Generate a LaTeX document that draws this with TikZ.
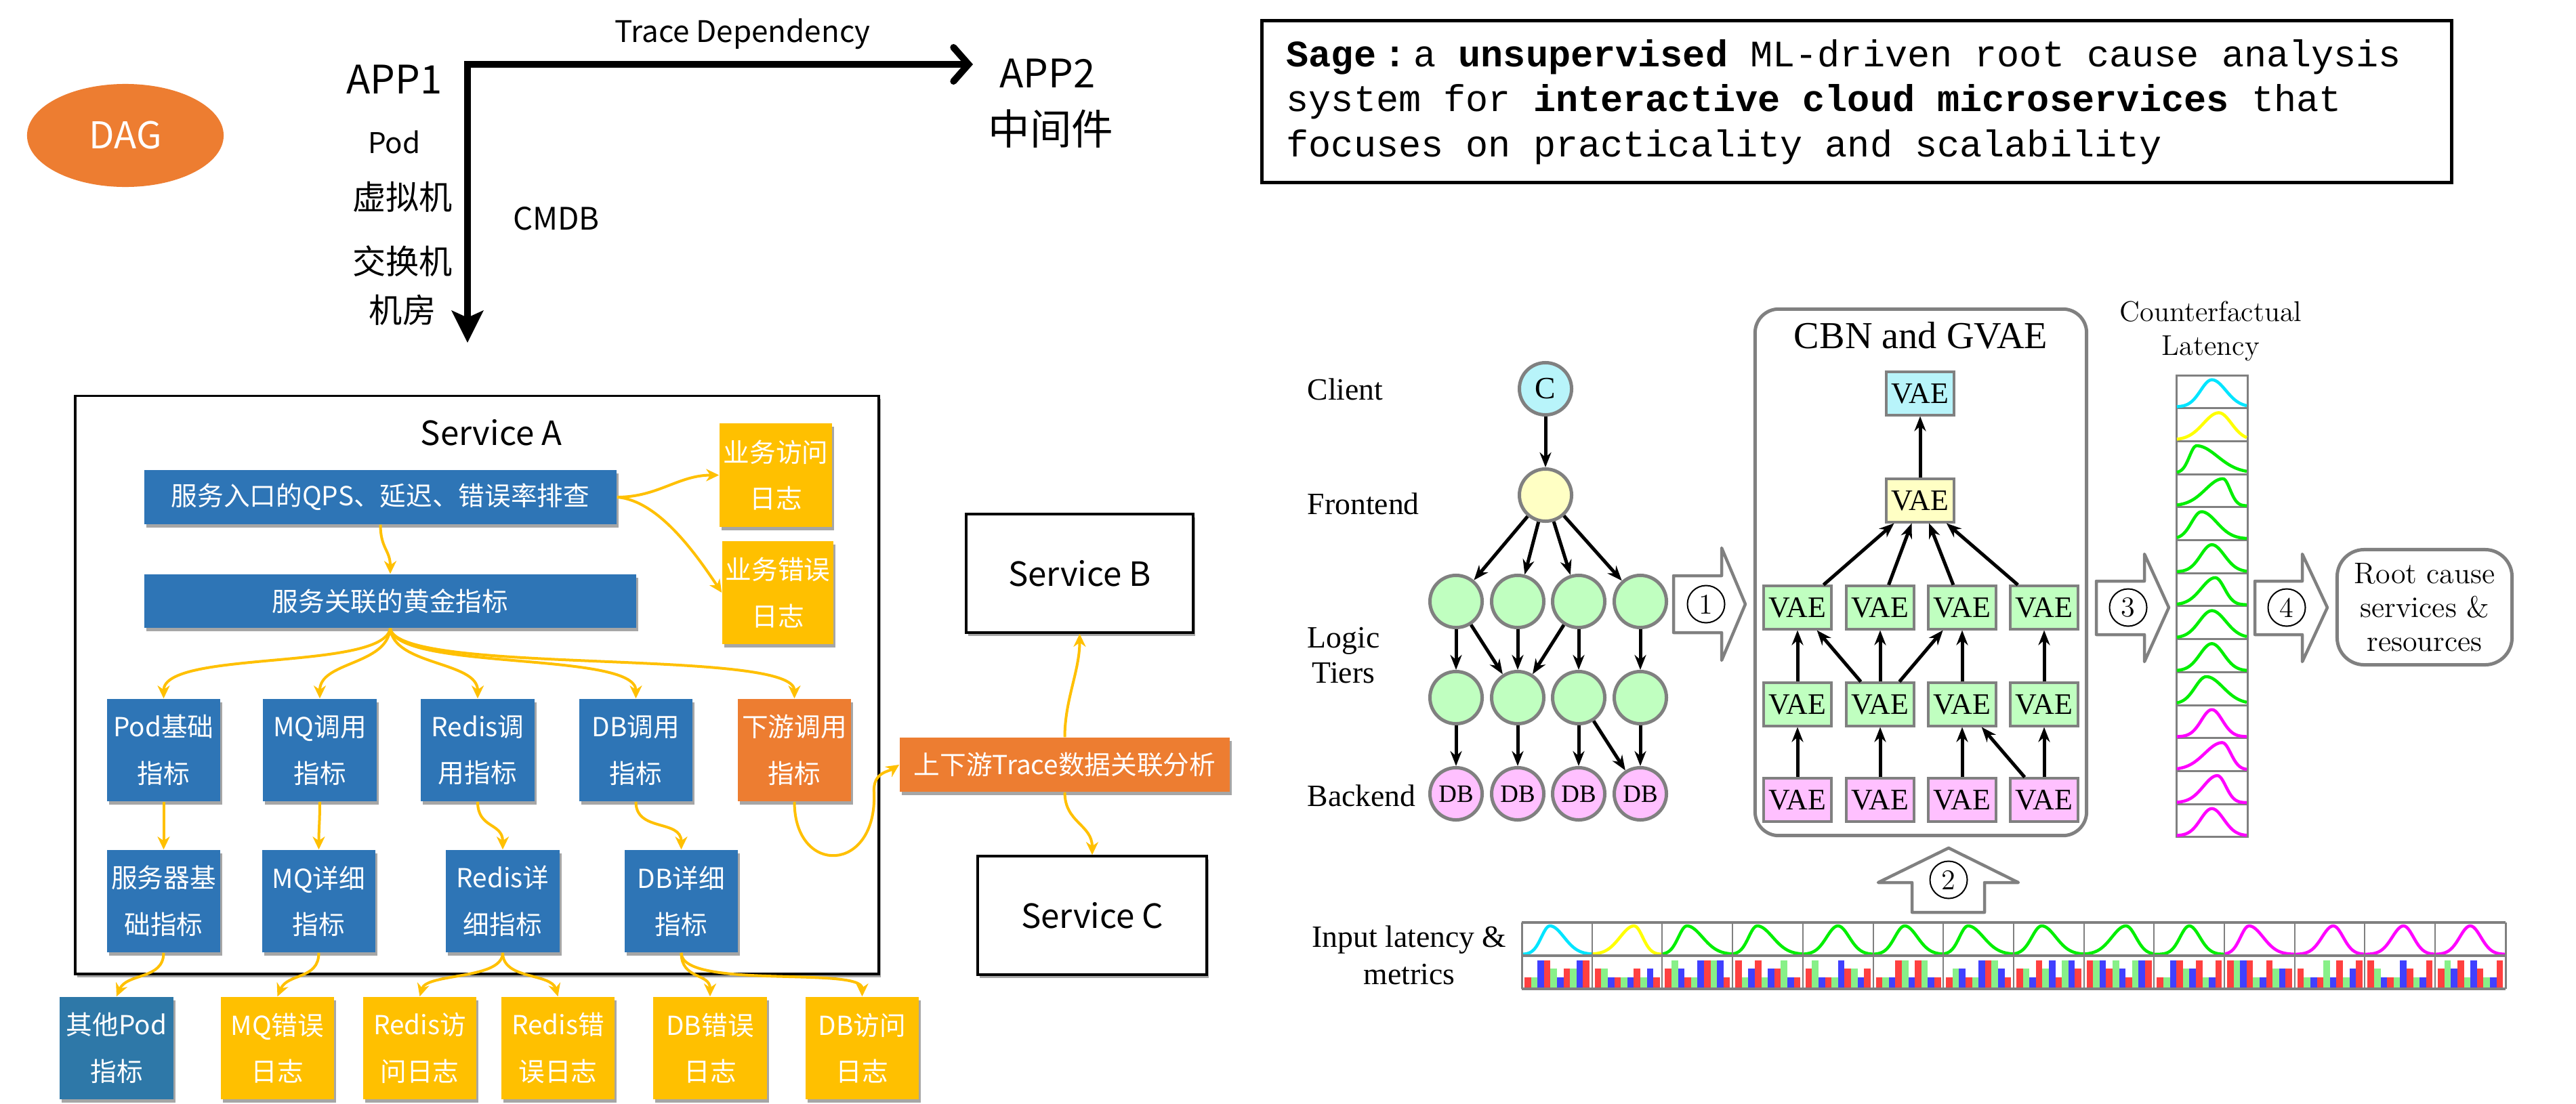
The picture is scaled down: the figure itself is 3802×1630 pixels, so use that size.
\documentclass[tikz,border=0pt]{standalone}
\usepackage{fontspec}
\usetikzlibrary{arrows.meta,shapes.geometric,shadows,calc}
\newfontfamily\cjk{Noto Sans CJK SC}
\newfontfamily\ser{Liberation Serif}
\newfontfamily\mono{Liberation Mono}
\newcommand\fsz[2]{\fontsize{#1pt}{#2pt}\selectfont}
\definecolor{cblue}{HTML}{2E75B6}
\definecolor{cblue2}{HTML}{2E78A8}
\definecolor{cyel}{HTML}{FFC000}
\definecolor{corg}{HTML}{ED7D31}
\definecolor{gry}{HTML}{808080}
\definecolor{lcyan}{HTML}{B8F4FA}
\definecolor{lyel}{HTML}{FFFFC4}
\definecolor{lgrn}{HTML}{C0FFC0}
\definecolor{lpink}{HTML}{FFC0FF}
\definecolor{ccyan}{HTML}{00E5FF}
\definecolor{cyellow}{HTML}{FFFF00}
\definecolor{cgreen}{HTML}{00EE00}
\definecolor{cmag}{HTML}{FF00FF}
\definecolor{bred}{HTML}{FF4040}
\definecolor{bgrn}{HTML}{88F088}
\definecolor{bblu}{HTML}{4040FF}
% bell curve: x0, ybottom, width, amplitude, mu, sigmaL, sigmaR, colour
\newcommand\bellc[8]{%
  \draw[#8, line width=0.045cm, line join=round] plot[domain=0:1, samples=41, smooth]
    ({#1+#3*\x}, {#2-#4*exp(-((\x-#5)^2)/(2*(((\x<#5)?#6:#7))^2))});
}
\begin{document}
\begin{tikzpicture}[x=0.01cm,y=-0.01cm,
  shad/.style={drop shadow={shadow xshift=0.03cm,shadow yshift=-0.05cm,opacity=0.35,fill=black}},
  lbox/.style={shad, inner sep=0pt, text=white, font=\cjk\fsz{11}{19.5}, align=center, minimum width=1.67cm, minimum height=1.51cm},
  bluebox/.style={lbox, fill=cblue},
  yelbox/.style={lbox, fill=cyel},
  orgbox/.style={lbox, fill=corg},
  svcbox/.style={shad, draw=black, line width=0.035cm, fill=white, font=\cjk\fsz{14}{16}, inner sep=0pt},
  yarr/.style={draw=cyel, line width=0.04cm, -{Stealth[length=0.19cm,width=0.18cm,inset=0.06cm]}},
  circ/.style={circle, draw=gry, line width=0.05cm, minimum size=0.77cm, inner sep=0pt, font=\ser\fsz{10.5}{12}},
  vae/.style={draw=gry, line width=0.04cm, minimum width=1.0cm, minimum height=0.63cm, inner sep=0pt, font=\ser\fsz{12.5}{14}},
  barr/.style={line width=0.05cm, -{Stealth[length=0.22cm,width=0.17cm]}},
  bigarr/.style={draw=gry, line width=0.045cm, fill=white, line join=round},
  numc/.style={circle, draw=black, line width=0.02cm, minimum size=0.55cm, inner sep=0pt, fill=white, font=\fsz{12}{14}},
  lbl/.style={font=\ser\fsz{13}{15}, inner sep=0pt}
]
\useasboundingbox (0,0) rectangle (3802,1630);
\fill[white] (0,0) rectangle (3802,1630);

% ---------------- left top: DAG axes ----------------
\node[ellipse, fill=corg, minimum width=2.9cm, minimum height=1.52cm, text=white, font=\cjk\fsz{15.5}{18}] (dag) at (185,200) {DAG};
\node[font=\cjk\fsz{12.5}{15}] (tracelbl) at (1096,50) {Trace Dependency};
\node[font=\cjk\fsz{16.5}{19}] (app1) at (582,117) {APP1};
\node[font=\cjk\fsz{16.5}{19}] (app2) at (1546,108) {APP2};
\node[font=\cjk\fsz{17.5}{20}] (mw) at (1551,190) {中间件};
\node[font=\cjk\fsz{12}{14}] (pod) at (582,210) {Pod};
\node[font=\cjk\fsz{14}{16}] (vm) at (594,291) {虚拟机};
\node[font=\cjk\fsz{14}{16}] (sw) at (594,386) {交换机};
\node[font=\cjk\fsz{14}{16}] (room) at (594,458) {机房};
\node[font=\cjk\fsz{13}{15}] (cmdb) at (821,323) {CMDB};
\coordinate (corner) at (690,95);
\coordinate (trend) at (1436,95);
\coordinate (dnend) at (690,506);
\draw[line width=0.1cm, line join=miter, {Stealth[length=0.47cm,width=0.46cm,inset=0.1cm]}-{Straight Barb[length=0.22cm,width=0.5cm,line cap=round]}] (dnend) -- (corner) -- (trend);

% ---------------- Service A ----------------
\node[svcbox, minimum width=11.85cm, minimum height=8.53cm] (svcA) at (704,1011) {};
\node[font=\cjk\fsz{14}{16}] (svcAlbl) at (725,639) {Service A};

\node[bluebox, minimum width=6.97cm, minimum height=0.8cm] (q1) at (561.5,734) {服务入口的QPS、延迟、错误率排查};
\node[bluebox, minimum width=7.26cm, minimum height=0.79cm] (q2) at (576,887.5) {服务关联的黄金指标};
\node[yelbox, minimum width=1.66cm, minimum height=1.53cm] (y1) at (1145,701.5) {业务访问\\日志};
\node[yelbox, minimum width=1.64cm, minimum height=1.52cm] (y2) at (1148,875) {业务错误\\日志};

\node[bluebox] (r3a) at (241.5,1107.5) {Pod基础\\指标};
\node[bluebox] (r3b) at (472,1107.5) {MQ调用\\指标};
\node[bluebox] (r3c) at (705,1107.5) {Redis调\\用指标};
\node[bluebox] (r3d) at (938.5,1107.5) {DB调用\\指标};
\node[orgbox] (r3e) at (1172.5,1107.5) {下游调用\\指标};

\node[bluebox] (r4a) at (241.5,1330.5) {服务器基\\础指标};
\node[bluebox] (r4b) at (470.5,1330.5) {MQ详细\\指标};
\node[bluebox] (r4c) at (742,1330.5) {Redis详\\细指标};
\node[bluebox] (r4d) at (1005.5,1330.5) {DB详细\\指标};

\node[lbox, fill=cblue2] (r5a) at (172,1547.5) {其他Pod\\指标};
\node[yelbox] (r5b) at (409.5,1547.5) {MQ错误\\日志};
\node[yelbox] (r5c) at (619.5,1547.5) {Redis访\\问日志};
\node[yelbox] (r5d) at (823.5,1547.5) {Redis错\\误日志};
\node[yelbox] (r5e) at (1048,1547.5) {DB错误\\日志};
\node[yelbox] (r5f) at (1272.5,1547.5) {DB访问\\日志};

\node[svcbox, minimum width=3.35cm, minimum height=1.75cm] (svcB) at (1593.5,846.5) {Service B};
\node[svcbox, minimum width=3.38cm, minimum height=1.75cm] (svcC) at (1612,1351.5) {Service C};
\node[orgbox, minimum width=4.87cm, minimum height=0.8cm] (trace) at (1571.5,1129) {上下游Trace数据关联分析};

% yellow connectors
\draw[yarr] (q1.east) .. controls +(60,0) and +(-60,0) .. (y1.west);
\draw[yarr] (q1.east) .. controls +(60,5) and +(-40,-60) .. (y2.west);
\draw[yarr] (q1.south) .. controls +(0,35) and +(0,-35) .. (q2.north);
\draw[yarr] (q2.south) .. controls +(-10,63) and +(0,-72) .. (r3a.north);
\draw[yarr] (q2.south) .. controls +(-5,55) and +(0,-55) .. (r3b.north);
\draw[yarr] (q2.south) .. controls +(5,55) and +(0,-55) .. (r3c.north);
\draw[yarr] (q2.south) .. controls +(10,63) and +(0,-70) .. (r3d.north);
\draw[yarr] (q2.south) .. controls +(10,70) and +(0,-75) .. (r3e.north);
\draw[yarr] (r3a.south) .. controls +(0,30) and +(0,-30) .. (r4a.north);
\draw[yarr] (r3b.south) .. controls +(0,30) and +(0,-30) .. (r4b.north);
\draw[yarr] (r3c.south) .. controls +(0,40) and +(0,-40) .. (r4c.north);
\draw[yarr] (r3d.south) .. controls +(0,45) and +(0,-45) .. (r4d.north);
\draw[yarr] (r3e.south) .. controls +(0,110) and +(5,120) .. (1290,1170) .. controls +(-2,-30) and +(-15,10) .. (trace.west);
\draw[yarr] (trace.north) .. controls +(0,-55) and +(0,55) .. (svcB.south);
\draw[yarr] (trace.south) .. controls +(0,45) and +(0,-45) .. (svcC.north);
\draw[yarr] (r4a.south) .. controls +(0,40) and +(15,-35) .. (r5a.north);
\draw[yarr] (r4b.south) .. controls +(0,40) and +(15,-35) .. (r5b.north);
\draw[yarr] (r4c.south) .. controls +(0,40) and +(10,-35) .. (r5c.north);
\draw[yarr] (r4c.south) .. controls +(0,40) and +(-10,-35) .. (r5d.north);
\draw[yarr] (r4d.south) .. controls +(0,40) and +(0,-35) .. (r5e.north);
\draw[yarr] (r4d.south) .. controls +(0,55) and +(0,-45) .. (r5f.north);

% ---------------- Sage box ----------------
\node[draw, line width=0.05cm, minimum width=17.55cm, minimum height=2.38cm, inner sep=0pt] (sagebox) at (2740,150) {};
\node[anchor=base west, inner sep=0pt, font=\mono\fsz{15.7}{19}] (s1) at (1898,98) {\textbf{Sage}\hspace{0.2em}\textbf{:}\hspace{0.2em}a \textbf{unsupervised} ML-driven root cause analysis};
\node[anchor=base west, inner sep=0pt, font=\mono\fsz{15.7}{19}] (s2) at (1898,164) {system for \textbf{interactive cloud microservices} that};
\node[anchor=base west, inner sep=0pt, font=\mono\fsz{15.7}{19}] (s3) at (1898,231) {focuses on practicality and scalability};

% ---------------- service graph ----------------
\node[lbl, anchor=west] (client) at (1929,575) {Client};
\node[lbl, anchor=west] (frontend) at (1929,744) {Frontend};
\node[lbl, align=center, font=\ser\fsz{13}{14.8}] (logic) at (1983,968) {Logic\\Tiers};
\node[lbl, anchor=west] (backend) at (1929,1175) {Backend};

\node[circ, fill=lcyan, font=\ser\fsz{13}{15}] (nc) at (2281,574) {C};
\node[circ, fill=lyel] (nf) at (2281,731) {};
\node[circ, fill=lgrn] (la1) at (2149,888) {};
\node[circ, fill=lgrn] (la2) at (2240,888) {};
\node[circ, fill=lgrn] (la3) at (2330,888) {};
\node[circ, fill=lgrn] (la4) at (2421,888) {};
\node[circ, fill=lgrn] (lb1) at (2149,1030) {};
\node[circ, fill=lgrn] (lb2) at (2240,1030) {};
\node[circ, fill=lgrn] (lb3) at (2330,1030) {};
\node[circ, fill=lgrn] (lb4) at (2421,1030) {};
\node[circ, fill=lpink] (db1) at (2149,1172) {DB};
\node[circ, fill=lpink] (db2) at (2240,1172) {DB};
\node[circ, fill=lpink] (db3) at (2330,1172) {DB};
\node[circ, fill=lpink] (db4) at (2421,1172) {DB};
\draw[barr] (nc) -- (nf);
\foreach \t in {la1,la2,la3,la4} \draw[barr] (nf) -- (\t);
\foreach \s/\t in {la1/lb1,la1/lb2,la2/lb2,la3/lb2,la3/lb3,la4/lb4,lb1/db1,lb2/db2,lb3/db3,lb3/db4,lb4/db4}
  \draw[barr] (\s) -- (\t);

% ---------------- CBN and GVAE ----------------
\node[draw=gry, line width=0.05cm, rounded corners=0.35cm, minimum width=4.89cm, minimum height=7.77cm, inner sep=0pt] (cbn) at (2835,845) {};
\node[font=\ser\fsz{16}{18}] (cbnlbl) at (2835,495) {CBN and GVAE};
\node[vae, fill=lcyan] (vc) at (2834,581) {VAE};
\node[vae, fill=lyel] (vy) at (2834,739) {VAE};
\node[vae, fill=lgrn] (va1) at (2653,897) {VAE};
\node[vae, fill=lgrn] (va2) at (2775,897) {VAE};
\node[vae, fill=lgrn] (va3) at (2896,897) {VAE};
\node[vae, fill=lgrn] (va4) at (3017,897) {VAE};
\node[vae, fill=lgrn] (vb1) at (2653,1040) {VAE};
\node[vae, fill=lgrn] (vb2) at (2775,1040) {VAE};
\node[vae, fill=lgrn] (vb3) at (2896,1040) {VAE};
\node[vae, fill=lgrn] (vb4) at (3017,1040) {VAE};
\node[vae, fill=lpink] (vp1) at (2653,1181) {VAE};
\node[vae, fill=lpink] (vp2) at (2775,1181) {VAE};
\node[vae, fill=lpink] (vp3) at (2896,1181) {VAE};
\node[vae, fill=lpink] (vp4) at (3017,1181) {VAE};
\draw[barr] (vy) -- (vc);
\foreach \s in {va1,va2,va3,va4} \draw[barr] (\s) -- (vy);
\foreach \s/\t in {vb1/va1,vb2/va1,vb2/va2,vb2/va3,vb3/va3,vb4/va4,vp1/vb1,vp2/vb2,vp3/vb3,vp4/vb3,vp4/vb4}
  \draw[barr] (\s) -- (\t);

% ---------------- big hollow arrows ----------------
\draw[bigarr] (2470,850) -- (2541,850) -- (2541,809) -- (2576,892) -- (2541,975) -- (2541,934) -- (2470,934) -- cycle;
\node[numc] (n1) at (2518,892) {1};
\draw[bigarr] (3094,858) -- (3165,858) -- (3165,818) -- (3201,897) -- (3165,977) -- (3165,937) -- (3094,937) -- cycle;
\node[numc] (n3) at (3141,897) {3};
\draw[bigarr] (3328,858) -- (3398,858) -- (3398,818) -- (3435,897) -- (3398,977) -- (3398,937) -- (3328,937) -- cycle;
\node[numc] (n4) at (3375,897) {4};
\draw[bigarr] (2822,1347) -- (2822,1303) -- (2772,1303) -- (2876,1252) -- (2979,1303) -- (2929,1303) -- (2929,1347) -- cycle;
\node[numc] (n2) at (2876,1299) {2};

% ---------------- counterfactual latency ----------------
\node[font=\fsz{12}{14.2}, align=center] (cflbl) at (3263,489) {Counterfactual\\Latency};
\foreach \i in {0,...,13} \draw[gry, line width=0.03cm] (3212,{554+\i*48.7}) rectangle ++(105,48.7);
\foreach \i/\c/\m/\a/\b in {0/ccyan/0.5/0.16/0.2, 1/cyellow/0.6/0.22/0.18, 2/cgreen/0.28/0.1/0.3, 3/cgreen/0.66/0.25/0.1, 4/cgreen/0.35/0.14/0.22, 5/cgreen/0.5/0.16/0.18, 6/cgreen/0.55/0.2/0.13, 7/cgreen/0.5/0.18/0.2, 8/cgreen/0.5/0.17/0.17, 9/cgreen/0.42/0.16/0.24, 10/cmag/0.5/0.15/0.15, 11/cmag/0.65/0.25/0.12, 12/cmag/0.58/0.2/0.12, 13/cmag/0.5/0.16/0.17}
  {\bellc{3213}{554+(\i+1)*48.7-2}{103}{40}{\m}{\a}{\b}{\c}}

\node[draw=gry, line width=0.05cm, rounded corners=0.4cm, minimum width=2.58cm, minimum height=1.7cm, align=center, font=\fsz{12.5}{14.2}] (root) at (3578.5,896.5) {Root cause\\services \&\\resources};

% ---------------- input latency & metrics ----------------
\node[font=\ser\fsz{13}{15.6}, align=center] (inlbl) at (2080,1410) {Input latency \&\\metrics};
\foreach \i/\c/\m/\a/\b in {0/ccyan/0.4/0.12/0.2, 1/cyellow/0.6/0.2/0.12, 2/cgreen/0.35/0.12/0.22, 3/cgreen/0.35/0.12/0.22, 4/cgreen/0.5/0.16/0.16, 5/cgreen/0.45/0.14/0.18, 6/cgreen/0.35/0.12/0.22, 7/cgreen/0.4/0.14/0.2, 8/cgreen/0.6/0.2/0.14, 9/cgreen/0.5/0.13/0.15, 10/cmag/0.35/0.12/0.2, 11/cmag/0.55/0.16/0.14, 12/cmag/0.55/0.16/0.14, 13/cmag/0.5/0.15/0.15}
  {\bellc{2246+\i*103.7}{1409}{103.7}{42}{\m}{\a}{\b}{\c}}
\pgfmathsetseed{11}
\foreach \i in {0,...,13}{
  \foreach \j/\bc in {0/bred,1/bgrn,2/bblu,3/bred,4/bgrn,5/bblu,6/bred,7/bgrn,8/bblu,9/bred}{
    \pgfmathrandominteger{\lv}{1}{3}
    \pgfmathsetmacro{\bh}{\lv==1?16:(\lv==2?29:41)}
    \fill[\bc] ({2246+\i*103.7+4+\j*9.6},1459) rectangle ++(9.6,-\bh);
  }
}
\foreach \i in {1,...,13} \draw[gry, line width=0.02cm] ({2246+\i*103.7},1362) -- ++(0,98);
\draw[gry, line width=0.03cm] (2246,1362) -- (2246,1460) (3698,1362) -- (3698,1460);
\draw[gry, line width=0.035cm] (2246,1411) -- (3698,1411);
\draw[gry, line width=0.045cm] (2246,1362) -- (3698,1362) (2246,1460) -- (3698,1460);
\end{tikzpicture}
\end{document}
